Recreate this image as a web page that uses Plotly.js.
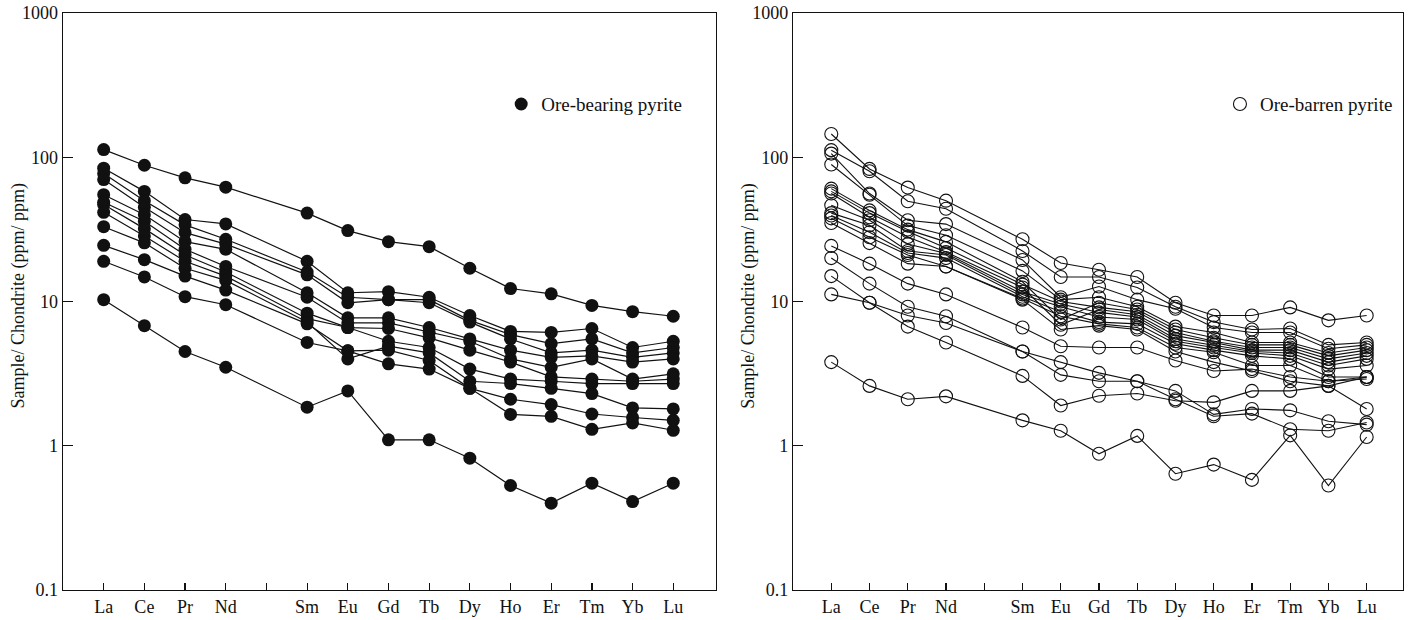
<!DOCTYPE html>
<html><head><meta charset="utf-8">
<script src="https://cdn.plot.ly/plotly-3.0.1.min.js"></script>
<style>html,body{margin:0;padding:0;background:#fff}#chart{width:1413px;height:620px}</style>
</head><body><div id="chart"></div>
<script>
// REE elements (chondrite-normalised), Pm slot left empty on the axis
const elements = ["La","Ce","Pr","Nd","Sm","Eu","Gd","Tb","Dy","Ho","Er","Tm","Yb","Lu"];
const axisCategories = ["La","Ce","Pr","Nd","Pm","Sm","Eu","Gd","Tb","Dy","Ho","Er","Tm","Yb","Lu"];
const axisLabels = ["La","Ce","Pr","Nd","","Sm","Eu","Gd","Tb","Dy","Ho","Er","Tm","Yb","Lu"];
const yTickVals = [0.1, 1, 10, 100, 1000];
const yTickText = ["0.1", "1", "10", "100", "1000"];
const yTitle = "Sample/ Chondrite (ppm/ ppm)";

// Ore-bearing pyrite samples
const bearing01 = [113, 88, 72, 62, 41, 31, 26, 24, 17, 12.3, 11.3, 9.4, 8.5, 7.9];
const bearing02 = [84, 58, 37, 34.5, 19, 11.5, 11.7, 10.7, 8.0, 6.2, 6.1, 6.5, 4.8, 5.3];
const bearing03 = [77, 50, 34, 27, 16, 10.7, 10.3, 10.3, 7.4, 5.9, 5.1, 5.5, 4.4, 4.8];
const bearing04 = [70, 45, 30, 25, 15.3, 9.8, 10.3, 9.8, 7.2, 5.5, 4.4, 4.6, 4.1, 4.4];
const bearing05 = [55, 40, 26, 23, 11.5, 7.7, 7.7, 6.6, 5.5, 4.6, 4.1, 4.2, 3.8, 4.0];
const bearing06 = [48.7, 36, 23, 17.5, 10.7, 7.1, 7.1, 6.1, 5.3, 4.0, 3.5, 4.0, 2.9, 3.15];
const bearing07 = [47, 32, 21, 16, 8.3, 6.6, 6.5, 5.6, 4.6, 3.8, 3.0, 2.9, 2.8, 2.9];
const bearing08 = [41.5, 28.5, 19, 15, 7.6, 6.6, 5.3, 4.8, 3.4, 2.9, 2.8, 2.7, 2.7, 2.7];
const bearing09 = [33, 25.5, 17, 14, 7.2, 4.0, 4.9, 4.4, 2.8, 2.7, 2.5, 2.3, 1.83, 1.8];
const bearing10 = [24.5, 19.5, 15, 12, 7.0, 4.55, 4.6, 3.9, 2.5, 2.1, 1.93, 1.66, 1.57, 1.5];
const bearing11 = [19, 14.8, 10.8, 9.5, 5.2, 4.55, 3.7, 3.4, 2.5, 1.65, 1.6, 1.3, 1.44, 1.28];
const bearing12 = [10.3, 6.8, 4.5, 3.5, 1.85, 2.4, 1.1, 1.1, 0.82, 0.53, 0.40, 0.55, 0.41, 0.55];

// Ore-barren pyrite samples
const barren01 = [145, 83, 61.6, 50, 27, 18.5, 16.6, 14.8, 9.8, 8.0, 8.0, 9.1, 7.4, 8.0];
const barren02 = [112, 80, 49.5, 44, 22.4, 14.8, 14.8, 12.5, 9.2, 7.2, 6.4, 6.5, 5.0, 5.2];
const barren03 = [106, 56, 36.6, 34.4, 19.4, 10.7, 12.7, 10.3, 8.9, 6.6, 6.1, 6.1, 4.7, 5.0];
const barren04 = [89, 55, 33.6, 28.8, 16.3, 10.3, 10.7, 9.2, 6.7, 6.1, 5.2, 5.2, 4.4, 4.8];
const barren05 = [60.6, 42.8, 31.5, 25.9, 13.7, 7.5, 9.8, 8.8, 6.4, 5.6, 5.0, 5.0, 4.2, 4.6];
const barren06 = [58, 41, 30.6, 23.5, 13.1, 10.0, 9.1, 8.5, 6.1, 5.3, 4.8, 4.8, 4.0, 4.4];
const barren07 = [56, 38.4, 28, 22.0, 12.5, 6.9, 8.8, 8.1, 5.8, 5.2, 4.6, 4.6, 3.8, 4.2];
const barren08 = [46.5, 36.6, 25, 21.5, 11.7, 9.6, 8.4, 7.8, 5.5, 5.0, 4.5, 4.4, 3.6, 4.0];
const barren09 = [41, 33.8, 22.4, 21, 11.2, 9.2, 7.8, 7.5, 5.3, 4.8, 4.4, 4.2, 3.4, 3.6];
const barren10 = [39.5, 30.2, 21.7, 20, 10.8, 8.5, 7.2, 7.0, 5.1, 4.6, 4.2, 4.0, 3.0, 3.0];
const barren11 = [37.7, 27.9, 21, 17.5, 10.5, 7.9, 7.0, 6.6, 4.8, 4.45, 3.6, 3.6, 2.8, 2.9];
const barren12 = [35, 25.4, 18.3, 17.5, 10.3, 6.4, 6.8, 6.4, 4.5, 3.8, 3.3, 2.8, 2.6, 1.8];
const barren13 = [24.3, 18.3, 13.3, 11.2, 6.6, 4.9, 4.8, 4.8, 3.9, 3.3, 3.4, 3.0, 2.8, 3.0];
const barren14 = [20, 13.3, 9.2, 7.9, 4.5, 3.8, 3.2, 2.8, 2.4, 1.65, 1.8, 1.76, 1.48, 1.4];
const barren15 = [15, 9.8, 8.0, 7.1, 4.5, 3.1, 2.8, 2.8, 2.1, 1.6, 1.67, 1.3, 1.27, 1.45];
const barren16 = [11.2, 9.8, 6.7, 5.2, 3.05, 1.9, 2.22, 2.3, 2.05, 2.0, 2.4, 2.4, 2.6, 3.0];
const barren17 = [3.8, 2.6, 2.1, 2.2, 1.5, 1.27, 0.88, 1.17, 0.64, 0.74, 0.58, 1.18, 0.53, 1.15];

const bearingSeries = [bearing01, bearing02, bearing03, bearing04, bearing05, bearing06,
  bearing07, bearing08, bearing09, bearing10, bearing11, bearing12];
const barrenSeries = [barren01, barren02, barren03, barren04, barren05, barren06, barren07,
  barren08, barren09, barren10, barren11, barren12, barren13, barren14, barren15, barren16, barren17];

const FONT = "'Liberation Serif', 'Times New Roman', serif";
const INK = "#111";

const traces = [];
bearingSeries.forEach(vals => traces.push({
  type: "scatter", mode: "lines+markers", x: elements, y: vals,
  xaxis: "x", yaxis: "y", showlegend: false, hoverinfo: "y",
  line: {color: INK, width: 1.2},
  marker: {symbol: "circle", size: 13, color: INK, line: {width: 0}}
}));
barrenSeries.forEach(vals => traces.push({
  type: "scatter", mode: "lines+markers", x: elements, y: vals,
  xaxis: "x2", yaxis: "y2", showlegend: false, hoverinfo: "y",
  line: {color: INK, width: 1.1},
  marker: {symbol: "circle-open", size: 13, color: INK, line: {width: 1.1}}
}));
// legend entries
traces.push({type: "scatter", mode: "markers", x: [null], y: [null], xaxis: "x", yaxis: "y",
  name: "Ore-bearing pyrite", legend: "legend", showlegend: true,
  marker: {symbol: "circle", size: 13, color: INK}});
traces.push({type: "scatter", mode: "markers", x: [null], y: [null], xaxis: "x2", yaxis: "y2",
  name: "Ore-barren pyrite", legend: "legend2", showlegend: true,
  marker: {symbol: "circle-open", size: 13, color: INK, line: {width: 1.1}}});

function xAxis(domain, anchor, range) {
  return {
    domain: domain, anchor: anchor, type: "category",
    categoryorder: "array", categoryarray: axisCategories,
    tickmode: "array", tickvals: axisCategories, ticktext: axisLabels,
    range: range, ticks: "inside", ticklen: 7, tickwidth: 1.2, tickcolor: INK,
    showline: true, mirror: true, linecolor: INK, linewidth: 1.3,
    showgrid: false, zeroline: false,
    tickfont: {family: FONT, size: 18, color: INK}
  };
}
function yAxis(anchor) {
  return {
    anchor: anchor, type: "log", range: [-1, 3],
    tickmode: "array", tickvals: yTickVals, ticktext: yTickText,
    ticks: "inside", ticklen: 10, tickwidth: 1.2, tickcolor: INK,
    showline: true, mirror: true, linecolor: INK, linewidth: 1.3,
    showgrid: false, zeroline: false,
    tickfont: {family: FONT, size: 18, color: INK}
  };
}

const legendBase = {
  yanchor: "middle", xanchor: "left", bgcolor: "rgba(0,0,0,0)", borderwidth: 0,
  font: {family: FONT, size: 19, color: INK}, itemwidth: 30, tracegroupgap: 0
};

function yTitleNote(xPaper) {
  return {text: yTitle, xref: "paper", yref: "paper", x: xPaper, y: 0.509,
    xanchor: "center", yanchor: "middle", textangle: -90, showarrow: false,
    font: {family: FONT, size: 18, color: INK}};
}

const layout = {
  width: 1413, height: 620,
  margin: {l: 63, r: 10, t: 13, b: 30},
  paper_bgcolor: "#fff", plot_bgcolor: "#fff",
  showlegend: true,
  xaxis: xAxis([0, 0.4873], "y", [-1, 15.05]),
  yaxis: yAxis("x"),
  xaxis2: xAxis([0.5448, 1], "y2", [-1, 14.95]),
  yaxis2: yAxis("x2"),
  legend: Object.assign({x: 0.327, y: 0.842}, legendBase),
  legend2: Object.assign({x: 0.8634, y: 0.842}, legendBase),
  annotations: [yTitleNote(-0.0335), yTitleNote(0.5115)],
  font: {family: FONT, color: INK}
};

Plotly.newPlot("chart", traces, layout, {displayModeBar: false, staticPlot: true});
</script></body></html>
